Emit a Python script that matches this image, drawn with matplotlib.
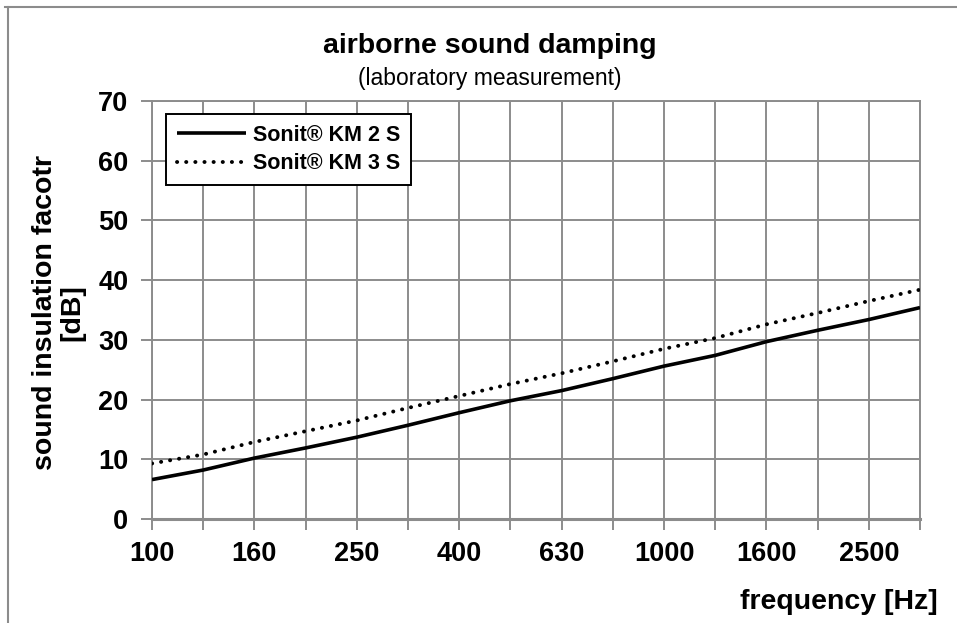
import matplotlib.pyplot as plt
from matplotlib.lines import Line2D

plt.rcParams['font.family'] = ['Liberation Sans', 'DejaVu Sans']

freqs = ['100', '125', '160', '200', '250', '315', '400', '500',
         '630', '800', '1000', '1250', '1600', '2000', '2500', '3150']
km2s = [6.6, 8.2, 10.2, 11.9, 13.7, 15.7, 17.8, 19.8,
        21.5, 23.5, 25.6, 27.4, 29.7, 31.6, 33.4, 35.4]
km3s = [9.3, 10.8, 12.9, 14.7, 16.5, 18.6, 20.6, 22.6,
        24.4, 26.4, 28.5, 30.3, 32.6, 34.5, 36.5, 38.4]

W, H = 957, 623
fig = plt.figure(figsize=(W / 100, H / 100), dpi=100)
ax = fig.add_axes([152 / W, 1 - 519 / H, (920 - 152) / W, (519 - 101) / H])

grey = '#8c8c8c'
x = list(range(len(freqs)))
ax.plot(x, km2s, color='black', lw=2.6, solid_capstyle='butt', label='Sonit® KM 2 S', zorder=3)
ax.plot(x, km3s, color='black', lw=2.8, linestyle=(0, (0.05, 2.3)), dash_capstyle='round',
        label='Sonit® KM 3 S', zorder=3)

ax.set_xlim(0, len(freqs) - 1)
ax.set_ylim(0, 70)
ax.set_xticks(x)
ax.set_xticklabels([f if i % 2 == 0 else '' for i, f in enumerate(freqs)])
ax.set_yticks(range(0, 71, 10))
ax.grid(True, color=grey, lw=1.4)
ax.set_axisbelow(True)
for s in ax.spines.values():
    s.set_color(grey)
    s.set_linewidth(1.4)
ax.spines['bottom'].set_linewidth(2.2)
ax.tick_params(axis='both', direction='out', length=8, width=1.4, color=grey,
               labelsize=19.5)
for lab in ax.get_xticklabels() + ax.get_yticklabels():
    lab.set_fontweight('bold')
ax.tick_params(axis='x', pad=8)
ax.tick_params(axis='y', pad=9)

fig.text(490 / W, 1 - 46 / H, 'airborne sound damping', ha='center', va='center',
         fontsize=20.5, fontweight='bold')
fig.text(490 / W, 1 - 78 / H, '(laboratory measurement)', ha='center', va='center',
         fontsize=16.5)
fig.text(59 / W, 1 - 313 / H, 'sound insulation facotr\n[dB]', ha='center', va='center',
         rotation=90, fontsize=20.5, fontweight='bold', linespacing=1.05)
fig.text(938 / W, 1 - 602 / H, 'frequency [Hz]', ha='right', va='center',
         fontsize=20.5, fontweight='bold')

leg = ax.legend(loc='upper left', bbox_to_anchor=(166 / W, 1 - 114 / H),
                bbox_transform=fig.transFigure, fancybox=False, framealpha=1,
                edgecolor='black', prop={'weight': 'bold', 'size': 15.5},
                handlelength=3.2, borderpad=0.5, labelspacing=0.35, handletextpad=0.35,
                borderaxespad=0)
leg.get_frame().set_linewidth(1.4)

# outer chart border (top and left only visible)
fig.add_artist(Line2D([5 / W, 1], [1 - 7 / H, 1 - 7 / H], color=grey, lw=1.5))
fig.add_artist(Line2D([8 / W, 8 / W], [0, 1 - 7 / H], color=grey, lw=1.5))

fig.savefig('out.png', dpi=100)
